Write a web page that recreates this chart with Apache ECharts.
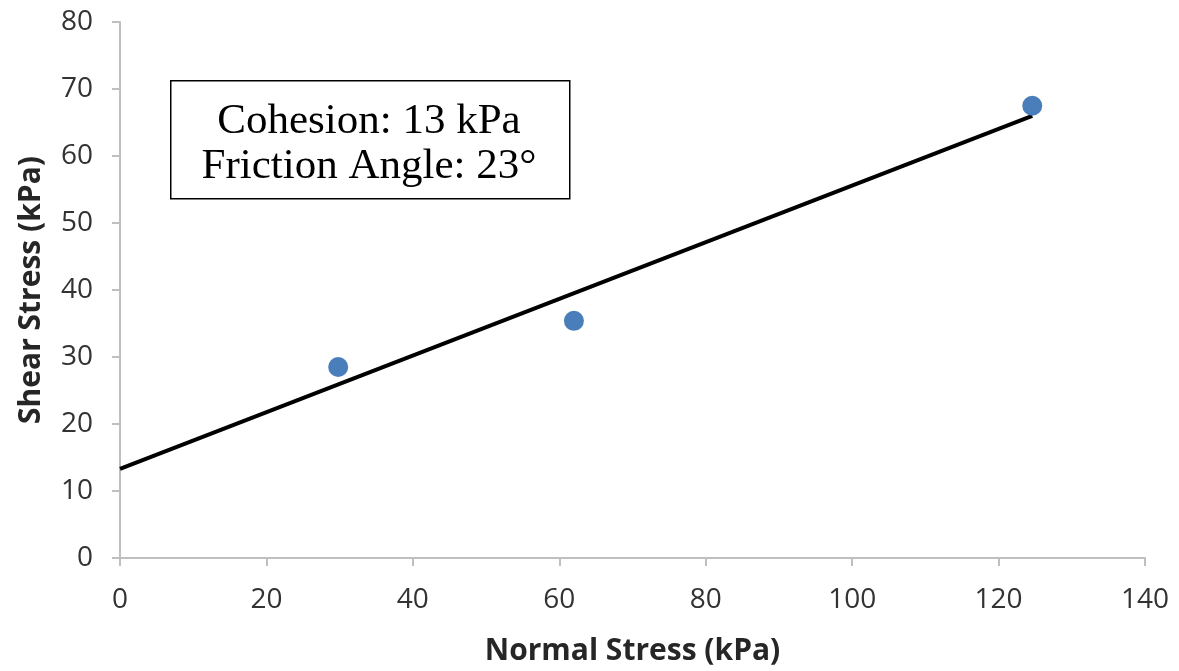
<!DOCTYPE html>
<html>
<head>
<meta charset="utf-8">
<title>Shear vs Normal Stress</title>
<script src="https://cdn.jsdelivr.net/npm/echarts@6/dist/echarts.min.js"></script>
<style>
  html, body { margin: 0; padding: 0; background: #fff; }
  #chart { width: 1179px; height: 671px; }
</style>
</head>
<body>
<div id="chart"></div>
<script>
// measured points (kPa)
const normalStress = [29.8, 62.0, 124.6]
const shearStress = [28.5, 35.4, 67.5]
// fitted failure envelope
const fitX = [0, 124.6]
const fitY = [13.3, 66.0]
const boxLines = ['Cohesion: 13 kPa', 'Friction Angle: 23°']

const axisGrey = '#bfbfbf'
const labelFont = { color: '#333333', fontSize: 28, fontFamily: 'Open Sans' }
const nameFont = { color: '#262626', fontSize: 30, fontWeight: 'bold', fontFamily: 'Open Sans' }

const chart = echarts.init(document.getElementById('chart'))
chart.setOption({
  animation: false,
  grid: { left: 120, right: 34, top: 22, bottom: 111 },
  xAxis: {
    type: 'value',
    min: 0,
    max: 140,
    interval: 20,
    name: 'Normal Stress (kPa)',
    nameLocation: 'middle',
    nameGap: 78,
    nameTextStyle: nameFont,
    axisLine: { lineStyle: { color: axisGrey, width: 2 } },
    axisTick: { show: true, length: 8, lineStyle: { color: axisGrey, width: 2 } },
    axisLabel: Object.assign({ margin: 28 }, labelFont),
    splitLine: { show: false }
  },
  yAxis: {
    type: 'value',
    min: 0,
    max: 80,
    interval: 10,
    name: 'Shear Stress (kPa)',
    nameLocation: 'middle',
    nameGap: 74,
    nameTextStyle: nameFont,
    axisLine: { show: true, lineStyle: { color: axisGrey, width: 2 } },
    axisTick: { show: true, length: 8, lineStyle: { color: axisGrey, width: 2 } },
    axisLabel: Object.assign({ margin: 27 }, labelFont),
    splitLine: { show: false }
  },
  series: [
    {
      type: 'line',
      data: fitX.map((x, i) => [x, fitY[i]]),
      showSymbol: false,
      lineStyle: { color: '#000', width: 4 },
      z: 2
    },
    {
      type: 'scatter',
      data: normalStress.map((x, i) => [x, shearStress[i]]),
      symbolSize: 20,
      itemStyle: { color: '#4a7ebb', opacity: 1 },
      z: 3
    }
  ],
  graphic: [
    {
      type: 'rect',
      left: 170,
      top: 80,
      shape: { width: 399, height: 118 },
      style: { fill: '#fff', stroke: '#000', lineWidth: 1.5 },
      z: 10
    },
    {
      type: 'text',
      x: 369,
      y: 122,
      style: {
        text: boxLines[0],
        fontSize: 43,
        fontFamily: 'Liberation Serif',
        fill: '#000',
        textAlign: 'center',
        textVerticalAlign: 'middle'
      },
      z: 11
    },
    {
      type: 'text',
      x: 369,
      y: 167,
      style: {
        text: boxLines[1],
        fontSize: 43,
        fontFamily: 'Liberation Serif',
        fill: '#000',
        textAlign: 'center',
        textVerticalAlign: 'middle'
      },
      z: 11
    }
  ]
})
</script>
</body>
</html>
